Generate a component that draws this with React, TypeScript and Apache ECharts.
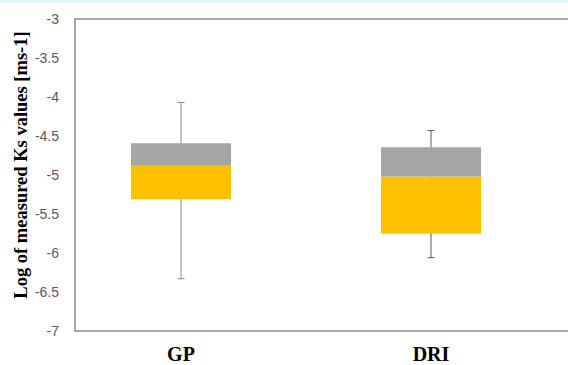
import React, { useEffect, useRef } from "react";
import * as echarts from "echarts";

const categories = ["GP", "DRI"];
const whiskerMin = [-6.33, -6.06];
const q1 = [-5.31, -5.75];
const median = [-4.88, -5.02];
const q3 = [-4.594, -4.645];
const whiskerMax = [-4.07, -4.43];
const whiskerColors = ["#8a8a8a", "#5a5a5a"];
const yTitle = "Log of measured Ks values [ms-1]";

export default function App() {
  const ref = useRef<HTMLDivElement>(null);
  useEffect(() => {
    document.body.style.margin = "0";
    const chart = echarts.init(ref.current!, null, { renderer: "svg" });
    const data = categories.map((c, i) => [i, whiskerMin[i], q1[i], median[i], q3[i], whiskerMax[i]]);
    chart.setOption({
      animation: false,
      backgroundColor: "#ffffff",
      grid: { left: 56, right: 12, top: 19, bottom: 34, show: false },
      xAxis: {
        type: "category",
        data: categories,
        axisLine: { show: false },
        axisTick: { show: false },
        axisLabel: {
          margin: 13,
          color: "#000000",
          fontFamily: "Liberation Serif",
          fontWeight: "bold",
          fontSize: 20,
        },
      },
      yAxis: {
        type: "value",
        min: -7,
        max: -3,
        interval: 0.5,
        offset: -19,
        axisLine: { show: false },
        axisTick: { show: false },
        splitLine: { show: false },
        axisLabel: {
          margin: 16,
          color: "#595959",
          fontFamily: "Liberation Sans",
          fontSize: 14,
        },
      },
      graphic: [
        {
          type: "rect",
          shape: { x: 0, y: 0, width: 568, height: 3 },
          style: { fill: "#dff7fb" },
          silent: true,
        },
        {
          type: "rect",
          shape: { x: 75, y: 19, width: 620, height: 312 },
          style: { fill: "none", stroke: "#8c8c8c", lineWidth: 1.5 },
          silent: true,
          z: 10,
        },
        {
          type: "text",
          x: 21,
          y: 165,
          rotation: Math.PI / 2,
          style: {
            text: yTitle,
            fill: "#000000",
            font: "bold 18.5px 'Liberation Serif'",
            textAlign: "center",
            textVerticalAlign: "middle",
          },
        },
      ],
      series: [
        {
          type: "custom",
          coordinateSystem: "cartesian2d",
          encode: { x: 0, y: [1, 2, 3, 4, 5] },
          data,
          renderItem: (params: any, api: any) => {
            const x = api.value(0);
            const idx = params.dataIndex;
            const pMin = api.coord([x, api.value(1)]);
            const pQ1 = api.coord([x, api.value(2)]);
            const pMed = api.coord([x, api.value(3)]);
            const pQ3 = api.coord([x, api.value(4)]);
            const pMax = api.coord([x, api.value(5)]);
            const bw = api.size([1, 0])[0] * 0.4;
            const cx = pMed[0];
            const wc = whiskerColors[idx];
            const cap = 7;
            return {
              type: "group",
              children: [
                {
                  type: "line",
                  shape: { x1: cx, y1: pMin[1], x2: cx, y2: pMax[1] },
                  style: { stroke: wc, lineWidth: 1 },
                },
                {
                  type: "line",
                  shape: { x1: cx - cap / 2, y1: pMin[1], x2: cx + cap / 2, y2: pMin[1] },
                  style: { stroke: wc, lineWidth: 1 },
                },
                {
                  type: "line",
                  shape: { x1: cx - cap / 2, y1: pMax[1], x2: cx + cap / 2, y2: pMax[1] },
                  style: { stroke: wc, lineWidth: 1 },
                },
                {
                  type: "rect",
                  shape: { x: cx - bw / 2, y: pMed[1], width: bw, height: pQ1[1] - pMed[1] },
                  style: { fill: "#ffc000" },
                },
                {
                  type: "rect",
                  shape: { x: cx - bw / 2, y: pQ3[1], width: bw, height: pMed[1] - pQ3[1] },
                  style: { fill: "#a5a5a5" },
                },
              ],
            };
          },
        },
      ],
    });
    return () => chart.dispose();
  }, []);
  return (
    <div
      ref={ref}
      style={{ position: "fixed", left: 0, top: 0, width: 568, height: 365 }}
    />
  );
}
